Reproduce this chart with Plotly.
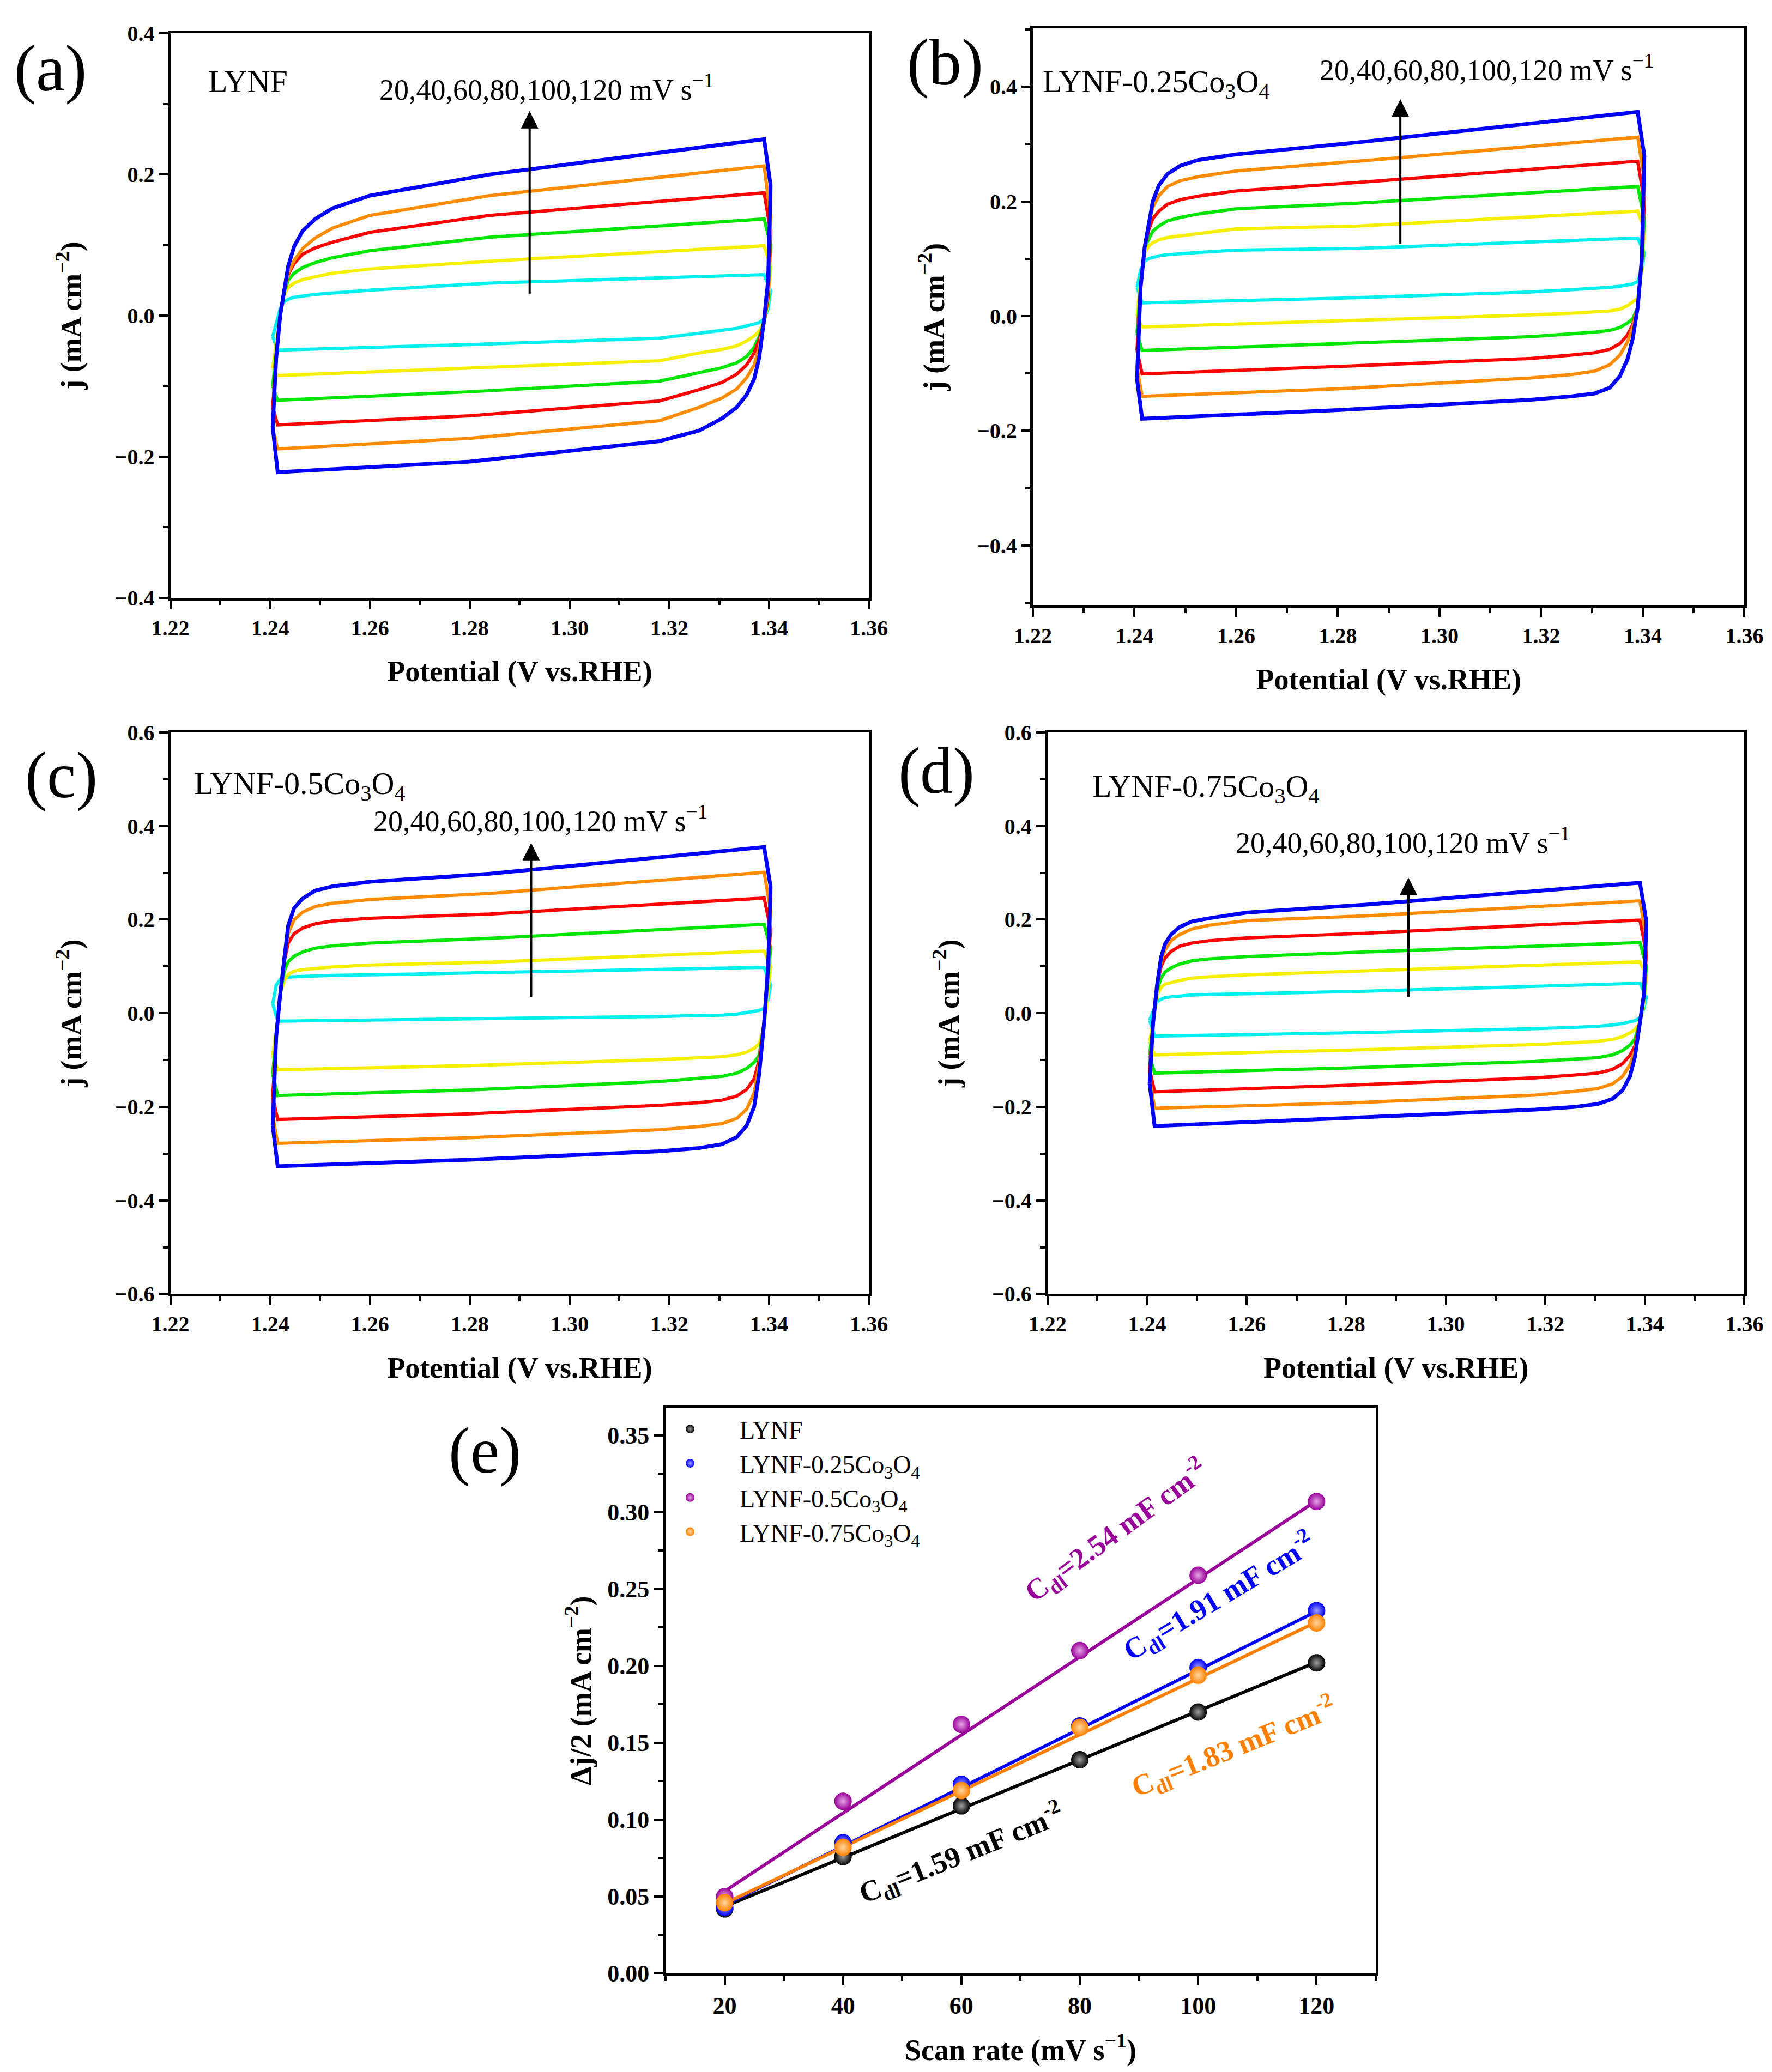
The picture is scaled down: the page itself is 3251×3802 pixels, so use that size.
import plotly.graph_objects as go

# potentials (V vs RHE) of the anodic and cathodic branches
E_UP = [1.2405, 1.2412, 1.2420, 1.2428, 1.2436, 1.2448, 1.2465, 1.2490, 1.2525, 1.2600, 1.2840, 1.3390]
E_DN = [1.3403, 1.3398, 1.3390, 1.3380, 1.3370, 1.3355, 1.3335, 1.3305, 1.3260, 1.3180, 1.2800, 1.2415]

scan_rates = [20, 40, 60, 80, 100, 120]
cv_colors = ['#00F0F0', '#F5F000', '#00E600', '#FF0000', '#FF8C00', '#0000FF']

# (a) LYNF, rows = 20..120 mV/s
a_up = [
    [-0.030, -0.010, 0.010, 0.020, 0.023, 0.026, 0.028, 0.030, 0.032, 0.036, 0.046, 0.058],
    [-0.075, -0.040, 0.000, 0.030, 0.040, 0.046, 0.051, 0.055, 0.060, 0.066, 0.077, 0.099],
    [-0.100, -0.050, 0.000, 0.033, 0.050, 0.060, 0.068, 0.075, 0.082, 0.092, 0.111, 0.137],
    [-0.130, -0.060, 0.000, 0.035, 0.058, 0.074, 0.087, 0.096, 0.104, 0.118, 0.142, 0.174],
    [-0.160, -0.060, 0.000, 0.035, 0.060, 0.078, 0.095, 0.110, 0.124, 0.142, 0.170, 0.212],
    [-0.158, -0.060, 0.000, 0.035, 0.070, 0.098, 0.120, 0.137, 0.152, 0.170, 0.200, 0.250],
]
a_dn = [
    [0.035, 0.010, -0.005, -0.010, -0.012, -0.015, -0.018, -0.021, -0.025, -0.032, -0.041, -0.049],
    [0.070, 0.020, -0.010, -0.022, -0.029, -0.036, -0.043, -0.048, -0.053, -0.064, -0.075, -0.085],
    [0.100, 0.025, -0.010, -0.030, -0.045, -0.058, -0.067, -0.074, -0.081, -0.093, -0.108, -0.120],
    [0.120, 0.030, -0.010, -0.035, -0.053, -0.070, -0.083, -0.095, -0.105, -0.121, -0.142, -0.155],
    [0.140, 0.040, -0.010, -0.045, -0.070, -0.088, -0.104, -0.117, -0.130, -0.149, -0.174, -0.189],
    [0.184, 0.050, -0.005, -0.060, -0.090, -0.112, -0.130, -0.146, -0.163, -0.178, -0.207, -0.222],
]

# (b) LYNF-0.25Co3O4
b_up = [
    [0.050, 0.080, 0.096, 0.100, 0.102, 0.105, 0.107, 0.109, 0.111, 0.115, 0.118, 0.136],
    [0.000, 0.060, 0.110, 0.122, 0.128, 0.133, 0.137, 0.140, 0.144, 0.152, 0.157, 0.183],
    [-0.030, 0.050, 0.120, 0.135, 0.148, 0.157, 0.166, 0.172, 0.178, 0.187, 0.197, 0.226],
    [-0.060, 0.050, 0.120, 0.150, 0.170, 0.183, 0.195, 0.203, 0.209, 0.218, 0.233, 0.270],
    [-0.090, 0.050, 0.120, 0.160, 0.190, 0.210, 0.226, 0.236, 0.243, 0.253, 0.270, 0.312],
    [-0.110, 0.050, 0.120, 0.165, 0.200, 0.228, 0.248, 0.262, 0.272, 0.282, 0.303, 0.356],
]
b_dn = [
    [0.110, 0.080, 0.060, 0.056, 0.054, 0.052, 0.050, 0.048, 0.046, 0.042, 0.031, 0.023],
    [0.150, 0.080, 0.030, 0.025, 0.018, 0.012, 0.009, 0.007, 0.005, 0.002, -0.009, -0.019],
    [0.170, 0.090, 0.015, -0.005, -0.012, -0.020, -0.025, -0.028, -0.031, -0.036, -0.048, -0.060],
    [0.200, 0.100, 0.015, -0.015, -0.033, -0.048, -0.058, -0.064, -0.068, -0.074, -0.088, -0.101],
    [0.240, 0.100, 0.015, -0.020, -0.045, -0.068, -0.085, -0.096, -0.102, -0.108, -0.127, -0.140],
    [0.280, 0.100, 0.015, -0.040, -0.075, -0.105, -0.125, -0.135, -0.140, -0.146, -0.164, -0.179],
]

# (c) LYNF-0.5Co3O4
c_up = [
    [0.020, 0.060, 0.072, 0.075, 0.077, 0.078, 0.079, 0.080, 0.081, 0.082, 0.087, 0.098],
    [-0.090, -0.040, 0.040, 0.070, 0.083, 0.090, 0.093, 0.096, 0.099, 0.103, 0.109, 0.133],
    [-0.130, -0.050, 0.040, 0.090, 0.110, 0.122, 0.131, 0.139, 0.144, 0.150, 0.160, 0.190],
    [-0.180, -0.050, 0.040, 0.110, 0.150, 0.170, 0.182, 0.191, 0.197, 0.203, 0.212, 0.246],
    [-0.220, -0.050, 0.040, 0.120, 0.170, 0.200, 0.216, 0.228, 0.235, 0.243, 0.256, 0.301],
    [-0.240, -0.050, 0.040, 0.120, 0.187, 0.225, 0.245, 0.262, 0.271, 0.281, 0.298, 0.355],
]
c_dn = [
    [0.060, 0.030, 0.010, 0.006, 0.004, 0.001, -0.002, -0.004, -0.005, -0.007, -0.012, -0.017],
    [0.100, 0.050, -0.030, -0.065, -0.075, -0.083, -0.089, -0.093, -0.095, -0.099, -0.112, -0.121],
    [0.140, 0.080, -0.020, -0.090, -0.105, -0.118, -0.128, -0.135, -0.139, -0.146, -0.164, -0.176],
    [0.180, 0.100, -0.020, -0.100, -0.140, -0.163, -0.177, -0.186, -0.191, -0.197, -0.215, -0.227],
    [0.220, 0.100, -0.020, -0.110, -0.170, -0.205, -0.225, -0.236, -0.242, -0.249, -0.266, -0.278],
    [0.270, 0.100, -0.020, -0.130, -0.200, -0.240, -0.265, -0.280, -0.288, -0.295, -0.313, -0.327],
]

# (d) LYNF-0.75Co3O4
d_up = [
    [-0.015, 0.005, 0.025, 0.030, 0.033, 0.035, 0.037, 0.039, 0.040, 0.042, 0.047, 0.064],
    [-0.060, -0.020, 0.040, 0.055, 0.062, 0.066, 0.070, 0.075, 0.078, 0.082, 0.090, 0.110],
    [-0.090, -0.020, 0.050, 0.075, 0.088, 0.097, 0.105, 0.112, 0.116, 0.121, 0.131, 0.151],
    [-0.120, -0.020, 0.060, 0.100, 0.118, 0.132, 0.143, 0.150, 0.155, 0.161, 0.171, 0.199],
    [-0.140, -0.020, 0.060, 0.110, 0.135, 0.155, 0.168, 0.180, 0.188, 0.198, 0.208, 0.240],
    [-0.150, -0.020, 0.060, 0.120, 0.148, 0.168, 0.184, 0.196, 0.203, 0.215, 0.232, 0.279],
]
d_dn = [
    [0.035, 0.010, -0.010, -0.016, -0.019, -0.022, -0.025, -0.028, -0.030, -0.033, -0.042, -0.049],
    [0.080, 0.020, -0.020, -0.035, -0.042, -0.050, -0.056, -0.060, -0.063, -0.067, -0.079, -0.089],
    [0.100, 0.030, -0.020, -0.055, -0.068, -0.080, -0.089, -0.095, -0.098, -0.103, -0.117, -0.128],
    [0.130, 0.040, -0.020, -0.070, -0.090, -0.108, -0.120, -0.128, -0.132, -0.138, -0.154, -0.168],
    [0.160, 0.040, -0.020, -0.080, -0.110, -0.135, -0.151, -0.161, -0.167, -0.175, -0.192, -0.203],
    [0.196, 0.040, -0.020, -0.093, -0.135, -0.165, -0.183, -0.194, -0.200, -0.206, -0.224, -0.241],
]

# (e) half current density difference vs scan rate
e_names = ['LYNF', 'LYNF-0.25Co<sub>3</sub>O<sub>4</sub>',
           'LYNF-0.5Co<sub>3</sub>O<sub>4</sub>', 'LYNF-0.75Co<sub>3</sub>O<sub>4</sub>']
e_colors = ['#000000', '#0000FF', '#990099', '#FF8000']
e_light = ['#a0a0a0', '#a0a0ff', '#e6a6e6', '#ffd6a0']
dj_lynf = [0.042, 0.076, 0.109, 0.139, 0.170, 0.202]
dj_025 = [0.043, 0.085, 0.123, 0.161, 0.199, 0.236]
dj_05 = [0.050, 0.112, 0.162, 0.210, 0.259, 0.307]
dj_075 = [0.046, 0.082, 0.119, 0.160, 0.194, 0.228]
fit_x = [20, 120]
fit_lynf = [0.0435, 0.2025]
fit_025 = [0.0445, 0.2355]
fit_05 = [0.0535, 0.3075]
fit_075 = [0.0455, 0.2285]
cdl_labels = ['C<sub>dl</sub>=1.59 mF cm<sup>-2</sup>', 'C<sub>dl</sub>=1.91 mF cm<sup>-2</sup>',
              'C<sub>dl</sub>=2.54 mF cm<sup>-2</sup>', 'C<sub>dl</sub>=1.83 mF cm<sup>-2</sup>']

SERIF = 'Liberation Serif'

fig = go.Figure()

# CV loops
panels = [('x', 'y', a_up, a_dn), ('x2', 'y2', b_up, b_dn),
          ('x3', 'y3', c_up, c_dn), ('x4', 'y4', d_up, d_dn)]
for xa, ya, up, dn in panels:
    for k in range(len(scan_rates)):
        fig.add_trace(go.Scatter(
            x=E_UP + E_DN + [E_UP[0]],
            y=up[k] + dn[k] + [up[k][0]],
            mode='lines',
            line=dict(color=cv_colors[k], width=7 if k == 5 else 6),
            xaxis=xa, yaxis=ya, showlegend=False
        ))

# linear fits and data points for (e)
e_data = [dj_lynf, dj_025, dj_05, dj_075]
e_fits = [fit_lynf, fit_025, fit_05, fit_075]
for k in range(4):
    fig.add_trace(go.Scatter(
        x=fit_x, y=e_fits[k], mode='lines',
        line=dict(color=e_colors[k], width=6),
        xaxis='x5', yaxis='y5', showlegend=False
    ))
for k in range(4):
    fig.add_trace(go.Scatter(
        x=scan_rates, y=e_data[k], mode='markers', name=e_names[k],
        marker=dict(size=32, color=e_colors[k],
                    gradient=dict(type='radial', color=e_light[k]),
                    line=dict(width=0)),
        xaxis='x5', yaxis='y5'
    ))


def cv_xaxis(domain, anchor):
    return dict(domain=domain, anchor=anchor, range=[1.22, 1.36], tick0=1.22, dtick=0.02,
                tickformat='.2f', showline=True, mirror=True, linecolor='black', linewidth=5,
                ticks='outside', ticklen=16, tickwidth=4, tickcolor='black',
                minor=dict(ticks='outside', dtick=0.01, ticklen=9, tickwidth=4, tickcolor='black'),
                showgrid=False, zeroline=False, automargin=False,
                tickfont=dict(family=SERIF, size=40, color='black', weight='bold'),
                title=dict(text='Potential (V vs.RHE)', standoff=40,
                           font=dict(family=SERIF, size=54, color='black', weight='bold')))


def cv_yaxis(domain, anchor, yrange):
    return dict(domain=domain, anchor=anchor, range=yrange, tick0=0, dtick=0.2,
                tickformat='.1f', showline=True, mirror=True, linecolor='black', linewidth=5,
                ticks='outside', ticklen=16, tickwidth=4, tickcolor='black',
                minor=dict(ticks='outside', dtick=0.1, ticklen=9, tickwidth=4, tickcolor='black'),
                showgrid=False, zeroline=False, automargin=False,
                tickfont=dict(family=SERIF, size=40, color='black', weight='bold'),
                title=dict(text='j (mA cm<sup>−2</sup>)', standoff=45,
                           font=dict(family=SERIF, size=54, color='black', weight='bold')))


fig.update_layout(
    width=3251, height=3802,
    margin=dict(l=0, r=0, t=0, b=0, autoexpand=False),
    paper_bgcolor='white', plot_bgcolor='white',
    xaxis=cv_xaxis([0.0937, 0.4879], 'y'),
    yaxis=cv_yaxis([0.7136, 0.986], 'x', [-0.4, 0.4]),
    xaxis2=cv_xaxis([0.5804, 0.982], 'y2'),
    yaxis2=cv_yaxis([0.7098, 0.9885], 'x2', [-0.505, 0.502]),
    xaxis3=cv_xaxis([0.0937, 0.4879], 'y3'),
    yaxis3=cv_yaxis([0.3776, 0.6486], 'x3', [-0.6, 0.6]),
    xaxis4=cv_xaxis([0.5887, 0.982], 'y4'),
    yaxis4=cv_yaxis([0.3776, 0.6486], 'x4', [-0.6, 0.6]),
    xaxis5=dict(domain=[0.3731, 0.7739], anchor='y5', range=[10, 130], tick0=20, dtick=20,
                showline=True, mirror=True, linecolor='black', linewidth=5,
                ticks='outside', ticklen=16, tickwidth=4, tickcolor='black',
                minor=dict(ticks='outside', dtick=10, ticklen=9, tickwidth=4, tickcolor='black'),
                showgrid=False, zeroline=False, automargin=False,
                tickfont=dict(family=SERIF, size=44, color='black', weight='bold'),
                title=dict(text='Scan rate (mV s<sup>−1</sup>)', standoff=40,
                           font=dict(family=SERIF, size=54, color='black', weight='bold'))),
    yaxis5=dict(domain=[0.0497, 0.3227], anchor='x5', range=[0, 0.368], tick0=0, dtick=0.05,
                tickformat='.2f', showline=True, mirror=True, linecolor='black', linewidth=5,
                ticks='outside', ticklen=16, tickwidth=4, tickcolor='black',
                minor=dict(ticks='outside', dtick=0.025, ticklen=9, tickwidth=4, tickcolor='black'),
                showgrid=False, zeroline=False, automargin=False,
                tickfont=dict(family=SERIF, size=44, color='black', weight='bold'),
                title=dict(text='Δj/2 (mA cm<sup>−2</sup>)', standoff=14,
                           font=dict(family=SERIF, size=54, color='black', weight='bold'))),
    legend=dict(x=0.359, y=0.322, xanchor='left', yanchor='top', bgcolor='rgba(0,0,0,0)',
                font=dict(family=SERIF, size=46, color='black'), itemwidth=172,
                tracegroupgap=0),
)

# panel letters
letters = [('(a)', 0.026, 0.969), ('(b)', 0.531, 0.972), ('(c)', 0.032, 0.628),
           ('(d)', 0.526, 0.630), ('(e)', 0.271, 0.302)]
for txt, px, py in letters:
    fig.add_annotation(text=txt, x=px, y=py, xref='paper', yref='paper', showarrow=False,
                       xanchor='center', yanchor='middle',
                       font=dict(family=SERIF, size=120, color='black'))

# sample names inside CV panels
names = [('LYNF', 'x', 'y', 1.2355, 0.332),
         ('LYNF-0.25Co<sub>3</sub>O<sub>4</sub>', 'x2', 'y2', 1.2443, 0.405),
         ('LYNF-0.5Co<sub>3</sub>O<sub>4</sub>', 'x3', 'y3', 1.2459, 0.486),
         ('LYNF-0.75Co<sub>3</sub>O<sub>4</sub>', 'x4', 'y4', 1.2518, 0.481)]
for txt, xr, yr, px, py in names:
    fig.add_annotation(text=txt, x=px, y=py, xref=xr, yref=yr, showarrow=False,
                       font=dict(family=SERIF, size=58, color='black'))

# scan-rate text and arrows
rate_txt = '20,40,60,80,100,120 mV s<sup>−1</sup>'
rate_pos = [('x', 'y', 1.2954, 0.323), ('x2', 'y2', 1.3093, 0.433),
            ('x3', 'y3', 1.2942, 0.416), ('x4', 'y4', 1.2914, 0.369)]
for xr, yr, px, py in rate_pos:
    fig.add_annotation(text=rate_txt, x=px, y=py, xref=xr, yref=yr, showarrow=False,
                       font=dict(family=SERIF, size=54, color='black'))

arrows = [('x', 'y', 1.292, 0.03, 0.29), ('x2', 'y2', 1.2923, 0.125, 0.378),
          ('x3', 'y3', 1.2923, 0.033, 0.364), ('x4', 'y4', 1.2925, 0.033, 0.29)]
for xr, yr, px, y0, y1 in arrows:
    fig.add_annotation(x=px, y=y1, ax=px, ay=y0, xref=xr, yref=yr, axref=xr, ayref=yr,
                       text='', showarrow=True, arrowhead=2, arrowsize=1.6, arrowwidth=4,
                       arrowcolor='black')

# Cdl labels in (e)
cdl_pos = [(60, 0.078, -22), (103.5, 0.245, -31), (86.1, 0.288, -36), (106, 0.147, -22)]
for k in range(4):
    px, py, ang = cdl_pos[k]
    fig.add_annotation(text=cdl_labels[k], x=px, y=py, xref='x5', yref='y5', showarrow=False,
                       textangle=ang,
                       font=dict(family=SERIF, size=54, color=e_colors[k], weight='bold'))

fig.write_html('out.html')
